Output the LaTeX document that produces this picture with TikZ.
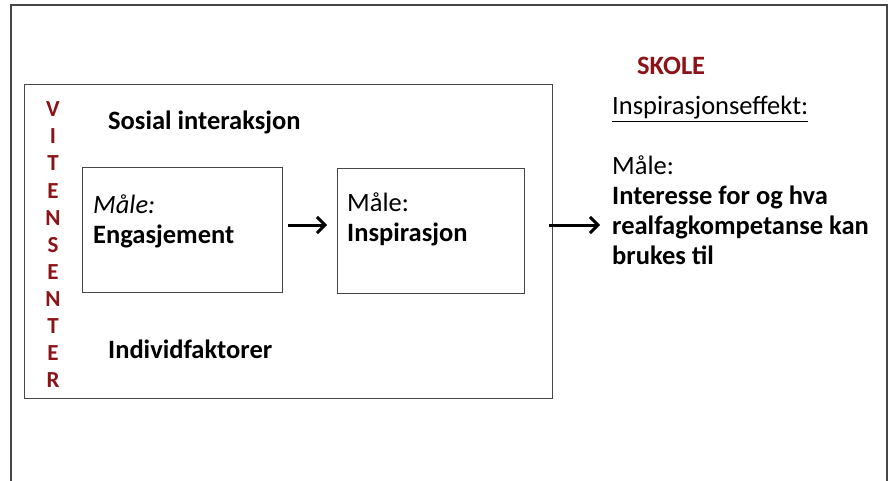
\documentclass[tikz,border=0pt]{standalone}
\usepackage{fontspec}
\setmainfont{Carlito}
\usetikzlibrary{arrows.meta}
\definecolor{vred}{RGB}{140,20,25}
\definecolor{frame}{RGB}{70,70,70}
\tikzset{
  box/.style={draw=frame, line width=1.3pt},
  lbl/.style={anchor=base west, inner sep=0pt, font=\fontsize{26.5}{31}\selectfont},
  arr/.style={-{Straight Barb[length=8pt,width=16pt,line width=3pt]}, line width=3pt},
  vletter/.style={anchor=base, inner sep=0pt, text=vred, font=\fontsize{23}{24}\selectfont\bfseries}
}
\begin{document}
\begin{tikzpicture}[x=1pt,y=1pt]
\useasboundingbox (0,0) rectangle (890,-481);
% outer frame (open at bottom)
\draw[frame, line width=1.3pt] (11,-490) -- (11,-5) -- (887,-5) -- (887,-490);
% inner frame
\node[box, minimum width=528pt, minimum height=314pt, anchor=north west, inner sep=0pt] (centre) at (24,-84) {};
% boxes
\node[box, minimum width=200pt, minimum height=125pt, anchor=north west, inner sep=0pt] (b1) at (82,-167) {};
\node[box, minimum width=187pt, minimum height=125pt, anchor=north west, inner sep=0pt] (b2) at (337,-168) {};
% texts in boxes
\node[lbl] (m1) at (93,-213) {\itshape Måle:};
\node[lbl] (e1) at (93,-243) {\bfseries Engasjement};
\node[lbl] (m2) at (347,-211) {Måle:};
\node[lbl] (i2) at (347,-241) {\bfseries Inspirasjon};
% centre labels
\node[lbl] (sos) at (108,-130) {\bfseries Sosial interaksjon};
\node[lbl] (ind) at (108,-358) {\bfseries Individfaktorer};
% VITENSENTER
\foreach \l [count=\i from 0] in {V,I,T,E,N,S,E,N,T,E,R}
  \node[vletter] (v\i) at (53,{-117-27*\i}) {\l};
% right side
\node[lbl, text=vred, font=\fontsize{26.5}{31}\selectfont\bfseries] (skole) at (637,-75) {SKOLE};
\node[lbl] (ie) at (612,-115) {\underline{Inspirasjonseffekt:}};
\node[lbl] (m3) at (612,-175) {Måle:};
\node[lbl] (r1) at (612,-204) {\bfseries Interesse for og hva};
\node[lbl] (r2) at (612,-234) {\bfseries realfagkompetanse kan};
\node[lbl] (r3) at (612,-264) {\bfseries brukes til};
% arrows
\coordinate (ay) at (0,-225);
\draw[arr] ([xshift=5pt]b1.east |- ay) coordinate (a1s) -- ([xshift=-10pt]b2.west |- ay);
\draw[arr] ([xshift=-4pt]centre.east |- ay) coordinate (a2s) -- ([xshift=-12pt]r2.west |- ay);
\end{tikzpicture}
\end{document}
